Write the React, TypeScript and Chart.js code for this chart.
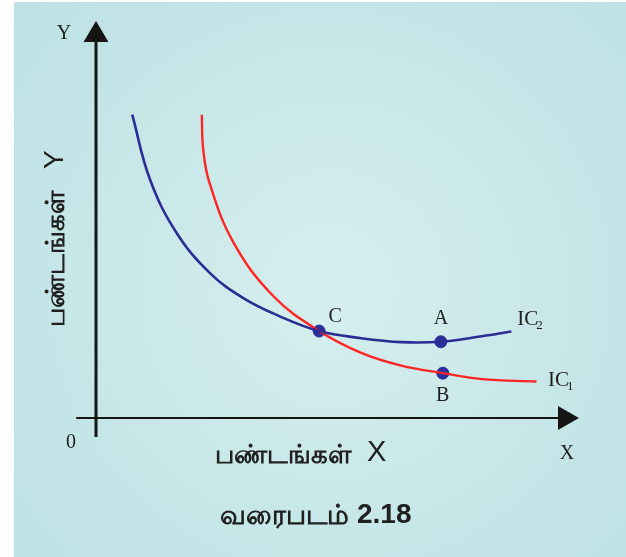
import React, { useEffect, useRef } from "react";
import { Chart, registerables } from "chart.js";

Chart.register(...registerables);

// Indifference curve IC2 (blue)
const IC2_X = [0.75, 1.12, 1.67, 2.36, 3.05, 3.77, 4.62, 5.49, 6.32, 7.14, 7.99, 8.6];
const IC2_Y = [7.64, 6.0, 4.66, 3.65, 3.02, 2.58, 2.19, 2.01, 1.91, 1.92, 2.06, 2.18];
// Indifference curve IC1 (red)
const IC1_X = [2.19, 2.22, 2.35, 2.85, 3.68, 4.62, 5.49, 6.32, 7.18, 7.99, 9.12];
const IC1_Y = [7.64, 6.76, 5.92, 4.41, 3.06, 2.19, 1.64, 1.32, 1.13, 0.98, 0.92];
// Marked points
const POINT_NAMES = ["C", "A", "B"];
const POINT_X = [4.62, 7.14, 7.18];
const POINT_Y = [2.19, 1.92, 1.13];
// Curve labels
const CURVE_LABELS = ["IC", "IC"];
const CURVE_SUBS = ["2", "1"];
const CURVE_LABEL_X = [8.72, 9.36];
const CURVE_LABEL_Y = [2.47, 0.95];

const X_AXIS_TITLE = "பண்டங்கள்";
const Y_AXIS_TITLE = "பண்டங்கள்";
const CAPTION_WORD = "வரைபடம்";
const CAPTION_NUM = "2.18";

const SERIF = "'Liberation Serif', 'DejaVu Serif', serif";
const SANS = "'Liberation Sans', 'Noto Sans', 'DejaVu Sans', sans-serif";

const toXY = (xs: number[], ys: number[]) => xs.map((x, i) => ({ x, y: ys[i] }));

const diagramPlugin = {
  id: "diagram",
  beforeDraw(chart: any) {
    const { ctx, width, height } = chart;
    ctx.save();
    ctx.fillStyle = "#ffffff";
    ctx.fillRect(0, 0, width, height);
    const g = ctx.createRadialGradient(330, 290, 10, 330, 290, 420);
    g.addColorStop(0, "#d6eeee");
    g.addColorStop(0.6, "#c6e6e8");
    g.addColorStop(1, "#bde1e4");
    ctx.fillStyle = g;
    ctx.fillRect(14, 2, width - 14, height - 2);
    ctx.restore();
  },
  beforeDatasetsDraw(chart: any) {
    const { ctx } = chart;
    const xs = chart.scales.x;
    const ys = chart.scales.y;
    const ox = xs.getPixelForValue(0);
    const oy = ys.getPixelForValue(0);
    const xEnd = xs.getPixelForValue(10);
    const yEnd = ys.getPixelForValue(10);
    ctx.save();
    ctx.strokeStyle = "#151515";
    ctx.fillStyle = "#151515";
    ctx.lineWidth = 3;
    // Y axis
    ctx.beginPath();
    ctx.moveTo(ox, ys.getPixelForValue(-0.48));
    ctx.lineTo(ox, yEnd + 18);
    ctx.stroke();
    ctx.beginPath();
    ctx.moveTo(ox, yEnd);
    ctx.lineTo(ox - 12.5, yEnd + 21);
    ctx.lineTo(ox + 12.5, yEnd + 21);
    ctx.closePath();
    ctx.fill();
    // X axis
    ctx.lineWidth = 2.2;
    ctx.beginPath();
    ctx.moveTo(xs.getPixelForValue(-0.41), oy);
    ctx.lineTo(xEnd - 18, oy);
    ctx.stroke();
    ctx.beginPath();
    ctx.moveTo(xEnd, oy);
    ctx.lineTo(xEnd - 21, oy - 12);
    ctx.lineTo(xEnd - 21, oy + 12);
    ctx.closePath();
    ctx.fill();
    ctx.restore();
  },
  afterDraw(chart: any) {
    const { ctx } = chart;
    const xs = chart.scales.x;
    const ys = chart.scales.y;
    const ox = xs.getPixelForValue(0);
    const oy = ys.getPixelForValue(0);
    ctx.save();
    ctx.fillStyle = "#1e1e1e";
    ctx.textAlign = "center";
    ctx.textBaseline = "middle";
    ctx.font = `20px ${SERIF}`;
    ctx.fillText("Y", ox - 32, ys.getPixelForValue(10) + 13);
    ctx.fillText("0", ox - 25, oy + 25);
    ctx.fillText("X", xs.getPixelForValue(10) - 12, oy + 36);
    // point labels
    ctx.font = `20px ${SERIF}`;
    const offs = [
      [16, -14],
      [0, -23],
      [0, 23],
    ];
    POINT_NAMES.forEach((n, i) => {
      ctx.fillText(n, xs.getPixelForValue(POINT_X[i]) + offs[i][0], ys.getPixelForValue(POINT_Y[i]) + offs[i][1]);
    });
    // curve labels with subscripts
    ctx.textAlign = "left";
    CURVE_LABELS.forEach((n, i) => {
      const px = xs.getPixelForValue(CURVE_LABEL_X[i]);
      const py = ys.getPixelForValue(CURVE_LABEL_Y[i]);
      ctx.font = `21px ${SERIF}`;
      ctx.fillText(n, px, py);
      const w = ctx.measureText(n).width;
      ctx.font = `13px ${SERIF}`;
      ctx.fillText(CURVE_SUBS[i], px + w - 2, py + 6);
    });
    // x axis title
    ctx.fillStyle = "#202020";
    ctx.textAlign = "left";
    ctx.font = `bold 26px ${SANS}`;
    ctx.fillText(X_AXIS_TITLE, 215, 456);
    ctx.font = `29px ${SANS}`;
    ctx.fillText("X", 367, 453);
    // rotated Y title
    ctx.save();
    ctx.translate(57, 244);
    ctx.rotate(-Math.PI / 2);
    ctx.font = `bold 26px ${SANS}`;
    ctx.fillText(Y_AXIS_TITLE, -83, 0);
    ctx.font = `28px ${SANS}`;
    ctx.fillText("Y", 75, -2);
    ctx.restore();
    // caption
    ctx.font = `bold 27px ${SANS}`;
    ctx.fillText(CAPTION_WORD, 220, 517);
    ctx.font = `bold 28px ${SANS}`;
    ctx.fillText(CAPTION_NUM, 357, 515);
    ctx.restore();
  },
};

export default function App() {
  const ref = useRef<HTMLCanvasElement | null>(null);
  useEffect(() => {
    if (!ref.current) return;
    const chart = new Chart(ref.current, {
      type: "line",
      data: {
        datasets: [
          {
            label: "IC2",
            data: toXY(IC2_X, IC2_Y),
            borderColor: "#2b2d94",
            borderWidth: 2.6,
            pointRadius: 0,
            tension: 0.4,
            fill: false,
          },
          {
            label: "IC1",
            data: toXY(IC1_X, IC1_Y),
            borderColor: "#ff2424",
            borderWidth: 2.4,
            pointRadius: 0,
            tension: 0.4,
            fill: false,
          },
          {
            label: "points",
            data: toXY(POINT_X, POINT_Y),
            showLine: false,
            pointRadius: 6,
            pointBackgroundColor: "#2a2f9c",
            pointBorderColor: "#2a2f9c",
            borderColor: "#2a2f9c",
          },
        ],
      },
      options: {
        animation: false,
        responsive: false,
        events: [],
        layout: { padding: { left: 96, right: 47, top: 21, bottom: 139 } },
        plugins: { legend: { display: false }, tooltip: { enabled: false } },
        scales: {
          x: { type: "linear", min: 0, max: 10, display: false },
          y: { type: "linear", min: 0, max: 10, display: false },
        },
      },
      plugins: [diagramPlugin],
    } as any);
    return () => chart.destroy();
  }, []);
  return (
    <div style={{ position: "absolute", left: 0, top: 0, width: 626, height: 557 }}>
      <canvas ref={ref} width={626} height={557} style={{ display: "block" }} />
    </div>
  );
}
